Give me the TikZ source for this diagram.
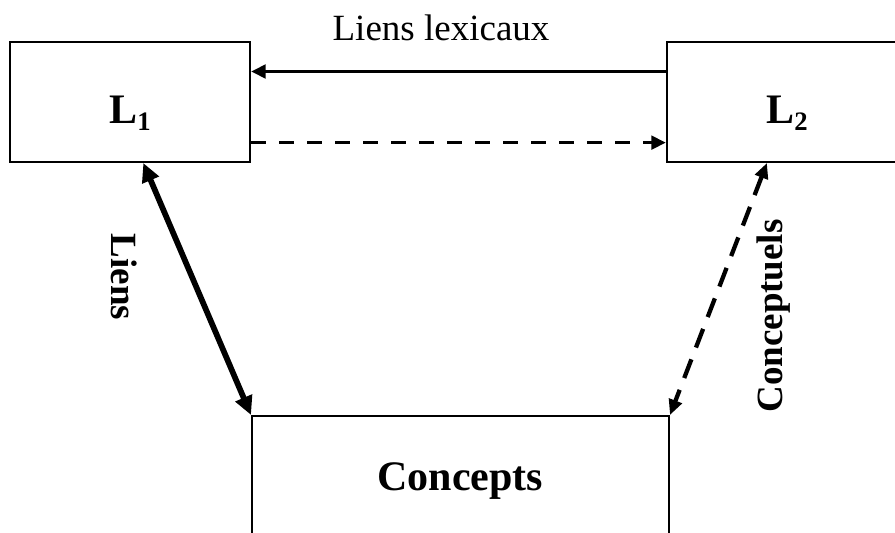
\documentclass[tikz,border=0pt]{standalone}
\usepackage{fontspec}
\setmainfont{Liberation Serif}
\usetikzlibrary{arrows.meta,calc}
\begin{document}
\begin{tikzpicture}[x=0.75pt,y=-0.75pt,
  box/.style={draw,line width=1.5pt,inner sep=0pt,anchor=center},
  langbox/.style={box,minimum width=180pt,minimum height=90pt},
  bigtext/.style={font=\fontsize{31.5}{36}\selectfont\bfseries,inner sep=0pt,anchor=base},
  sidetext/.style={font=\fontsize{27.75}{32}\selectfont\bfseries,inner sep=0pt},
  toptext/.style={font=\fontsize{27.75}{32}\selectfont,inner sep=0pt,anchor=base},
  lexarrow/.style={line width=2.8pt,-{Triangle[length=11pt,width=10pt]}},
  lexdash/.style={lexarrow,dash pattern=on 11.25pt off 9.75pt},
  conarrow/.style={line width=4.3pt,{Triangle[length=14pt,width=13pt]}-{Triangle[length=14pt,width=13pt]}},
  condash/.style={line width=3.2pt,dash pattern=on 15pt off 9.5pt,{Triangle[length=11.5pt,width=10pt]}-{Triangle[length=11.5pt,width=10pt]}}
]
\useasboundingbox (0,0) rectangle (895,532);
\clip (0,0) rectangle (895,532);

% the two language boxes and the concept box
\node[langbox] (l1) at (130,102) {};
\node[langbox] (l2) at (787,102) {};
\node[box,minimum width=312.75pt,minimum height=90pt] (cpt) at (460.5,476) {};

% box labels
\newcommand{\lowsub}[1]{\raisebox{-5.25pt}{\fontsize{20}{20}\selectfont #1}}
\node[bigtext] (l1lab) at (130,123) {L\lowsub{1}};
\node[bigtext] (l2lab) at (787,123) {L\lowsub{2}};
\node[bigtext] (cptlab) at (460.5,490) {Concepts};

% lexical links between the two languages
\coordinate (l2a) at ($(l2.north west)!0.25!(l2.south west)$);
\coordinate (l1a) at ($(l1.north east)!0.25!(l1.south east)$);
\coordinate (l1b) at ($(l1.north east)!0.833!(l1.south east)$);
\coordinate (l2b) at ($(l2.north west)!0.833!(l2.south west)$);
\draw[lexarrow] (l2a) -- (l1a);
\draw[lexdash] (l1b) -- (l2b);
\node[toptext] (lexlab) at (441,40) {Liens lexicaux};

% conceptual links
\coordinate (l1c) at ($(l1.south west)!0.555!(l1.south east)$);
\coordinate (l2c) at ($(l2.south west)!0.417!(l2.south east)$);
\draw[conarrow] (l1c) -- (cpt.north west);
\draw[condash] (l2c) -- (cpt.north east);
\node[sidetext,rotate=-90] (lienslab) at (124,277) {Liens};
\node[sidetext,rotate=90] (conlab) at (774,316) {Conceptuels};
\end{tikzpicture}
\end{document}
